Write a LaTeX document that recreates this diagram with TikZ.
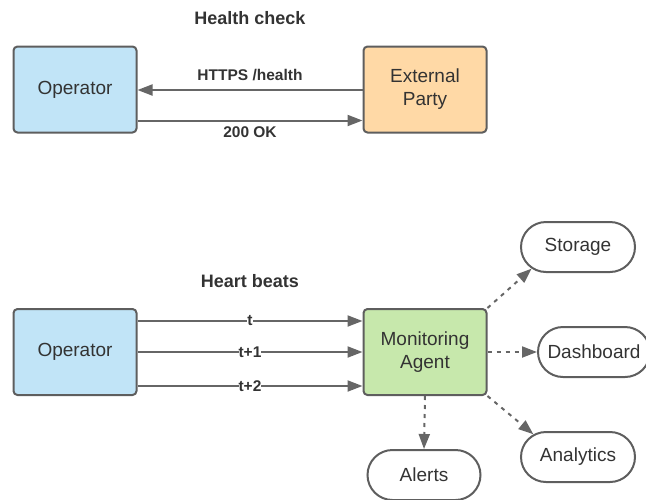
\documentclass[tikz,border=0pt]{standalone}
\usepackage{fontspec}
\setmainfont{Liberation Sans}
\usetikzlibrary{arrows.meta,shapes.misc}

\definecolor{edge}{HTML}{5E5E5E}
\definecolor{wire}{HTML}{666666}
\definecolor{opblue}{HTML}{C1E4F7}
\definecolor{extorange}{HTML}{FFD9A6}
\definecolor{agentgreen}{HTML}{C7E8AC}
\definecolor{ink}{HTML}{333333}

\tikzset{
  box/.style={draw=edge, line width=2pt, rounded corners=4pt,
    minimum width=123pt, minimum height=86pt, inner sep=0pt,
    align=center, text=ink, font=\fontsize{19}{23}\selectfont},
  pill/.style={draw=edge, line width=2pt, rounded rectangle,
    minimum height=50pt, inner sep=0pt, text=ink,
    font=\fontsize{19}{23}\selectfont},
  title/.style={text=ink, font=\bfseries\fontsize{18}{22}\selectfont},
  lbl/.style={text=ink, font=\bfseries\fontsize{15.5}{18}\selectfont, inner sep=1pt},
  flow/.style={draw=wire, line width=2pt,
    -{Triangle[length=15pt,width=11pt]}},
  feed/.style={draw=wire, line width=2pt, dash pattern=on 4pt off 5pt,
    -{Triangle[length=15pt,width=11pt]}}
}

\begin{document}
\begin{tikzpicture}[x=1pt,y=-1pt]
  \useasboundingbox (0,0) rectangle (646,499);

  % ---- health check ----
  \node[title] (hctitle) at (250,18) {Health check};
  \node[box, fill=opblue] (op1) at (75,89.5) {Operator};
  \node[box, fill=extorange] (ext) at (425,89.5) {External\\Party};

  \coordinate (reqS) at (363,90);
  \coordinate (okS) at (138,120.5);
  \draw[flow] (ext.west |- reqS) -- (op1.east |- reqS);
  \draw[flow] (op1.east |- okS) -- (ext.west |- okS);
  \node[lbl] (req) at (250,75) {HTTPS /health};
  \node[lbl] (ok) at (250,132) {200 OK};

  % ---- heart beats ----
  \node[title] (hbtitle) at (250,281) {Heart beats};
  \node[box, fill=opblue] (op2) at (75,352) {Operator};
  \node[box, fill=agentgreen] (agent) at (425,352) {Monitoring\\Agent};

  \coordinate (b0) at (0,321);
  \coordinate (b1) at (0,352);
  \coordinate (b2) at (0,386);
  \draw[flow] (op2.east |- b0) -- node[lbl, fill=white, inner sep=0pt] (l0) {t} (agent.west |- b0);
  \draw[flow] (op2.east |- b1) -- node[lbl, fill=white, inner sep=0pt] (l1) {t+1} (agent.west |- b1);
  \draw[flow] (op2.east |- b2) -- node[lbl, fill=white, inner sep=0pt] (l2) {t+2} (agent.west |- b2);

  % ---- consumers of the agent ----
  \node[pill, minimum width=114pt] (storage) at (578,247) {Storage};
  \node[pill, minimum width=112pt] (dash) at (594,352) {Dashboard};
  \node[pill, minimum width=114pt] (analytics) at (578,457) {Analytics};
  \node[pill, minimum width=113pt] (alerts) at (424,475) {Alerts};

  \draw[feed] (agent.north east) -- (storage.205);
  \draw[feed] (agent.east) -- (dash.west);
  \draw[feed] (agent.south east) -- (analytics.153);
  \draw[feed] (agent.south) -- (alerts.north);
\end{tikzpicture}
\end{document}
